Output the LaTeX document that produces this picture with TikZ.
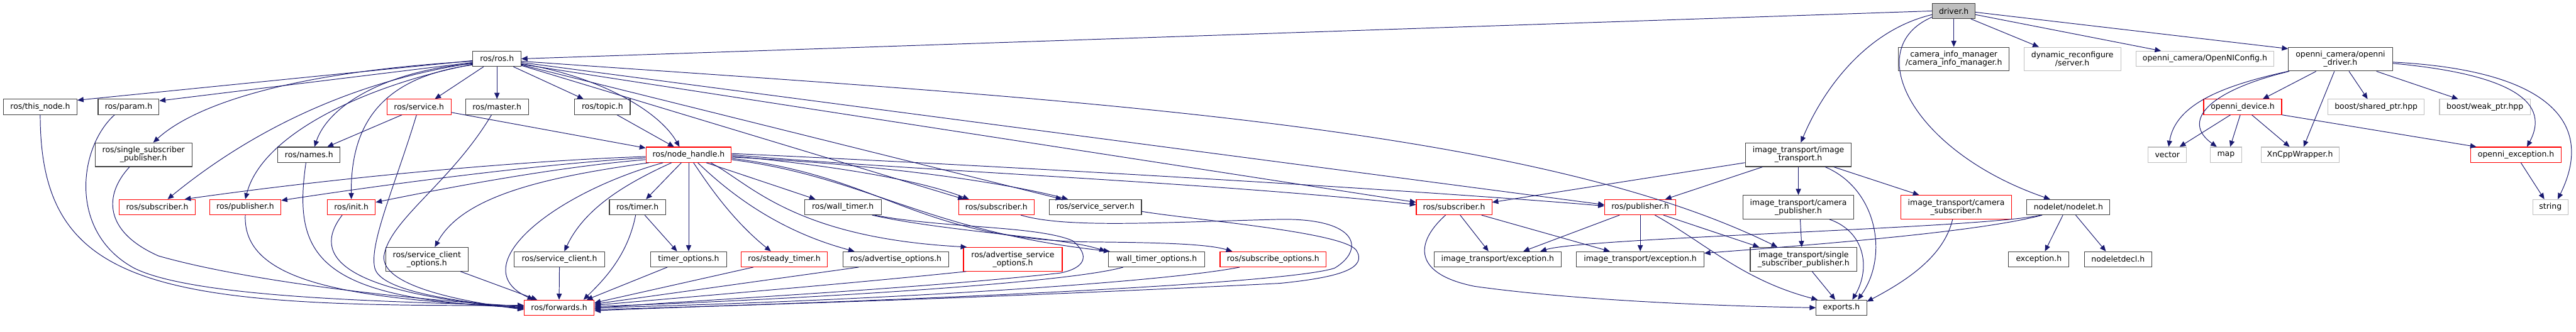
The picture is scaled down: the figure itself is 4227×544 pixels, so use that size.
\documentclass[tikz,border=0pt]{standalone}
\usepackage{fontspec}
\setmainfont{DejaVu Sans}
\usetikzlibrary{arrows.meta}
\definecolor{edgec}{HTML}{191970}
\definecolor{gborder}{HTML}{BFBFBF}
\definecolor{rootfill}{HTML}{BFBFBF}
\definecolor{redb}{HTML}{FF0000}
\definecolor{nborder}{HTML}{404040}
\newcommand{\doxfont}{\fontsize{12.85}{13.4}\selectfont}
\tikzset{
 e/.style={draw=edgec, line width=1pt, -{Triangle[length=10pt,width=8.5pt]}},
 nd/.style={draw=nborder, line width=1.1pt, fill=white, inner sep=0pt, minimum height=25pt, font=\doxfont, align=center},
 rn/.style={nd, draw=redb},
 gn/.style={nd, draw=gborder},
 tl/.style={minimum height=39pt},
}
\begin{document}
\begin{tikzpicture}[x=1pt,y=-1pt]
\fill[white] (0,0) rectangle (4227,544);
\useasboundingbox (0,0) rectangle (4227,544);
% row 0/1
\node[nd,fill=rootfill,minimum width=70pt] (drv) at (3206,18) {driver.h};
\node[nd,minimum width=79pt] (ros) at (815.5,96.5) {ros/ros.h};
\node[nd,tl,minimum width=182pt] (cim) at (3206,97) {camera\_info\_manager\\/camera\_info\_manager.h};
\node[gn,tl,minimum width=159pt] (dyn) at (3400.5,97) {dynamic\_reconfigure\\/server.h};
\node[gn,minimum width=226pt] (oncfg) at (3618,96.5) {openni\_camera/OpenNIConfig.h};
\node[nd,tl,minimum width=171pt] (ondrv) at (3840.5,97) {openni\_camera/openni\\\_driver.h};
% row 2
\node[nd,minimum width=121pt] (thisnode) at (66,175.5) {ros/this\_node.h};
\node[nd,minimum width=100pt] (param) at (211,175.5) {ros/param.h};
\node[rn,minimum width=105pt] (service) at (687.5,175.5) {ros/service.h};
\node[nd,minimum width=103pt] (master) at (815.5,175.5) {ros/master.h};
\node[nd,minimum width=91pt] (topic) at (988.5,175.5) {ros/topic.h};
\node[rn,minimum width=128pt] (ondev) at (3680,175.5) {openni\_device.h};
\node[gn,minimum width=158pt] (shptr) at (3899,175.5) {boost/shared\_ptr.hpp};
\node[gn,minimum width=149pt] (wkptr) at (4077.5,175.5) {boost/weak\_ptr.hpp};
% row 3
\node[nd,tl,minimum width=159pt] (ssp) at (235.5,254) {ros/single\_subscriber\\\_publisher.h};
\node[nd,minimum width=102pt] (names) at (507,254) {ros/names.h};
\node[rn,minimum width=140pt] (nh) at (1130,254) {ros/node\_handle.h};
\node[nd,tl,minimum width=174pt] (itit) at (2951,254) {image\_transport/image\\\_transport.h};
\node[gn,minimum width=63pt] (vector) at (3556.5,254) {vector};
\node[gn,minimum width=51pt] (map) at (3652.5,254) {map};
\node[gn,minimum width=128pt] (xn) at (3774,254) {XnCppWrapper.h};
\node[rn,minimum width=149pt] (onexc) at (4128.5,254) {openni\_exception.h};
% row 4
\node[rn,minimum width=124pt] (subL) at (258,340) {ros/subscriber.h};
\node[rn,minimum width=117pt] (pubL) at (402.5,340) {ros/publisher.h};
\node[rn,minimum width=79pt] (init) at (576.5,340) {ros/init.h};
\node[nd,minimum width=92pt] (timer) at (1046,340) {ros/timer.h};
\node[nd,minimum width=126pt] (wtimer) at (1383,340) {ros/wall\_timer.h};
\node[rn,minimum width=124pt] (subM) at (1635,340) {ros/subscriber.h};
\node[nd,minimum width=151pt] (srvsrv) at (1797.5,340) {ros/service\_server.h};
\node[rn,minimum width=124pt] (subR) at (2386,340) {ros/subscriber.h};
\node[rn,minimum width=117pt] (pubR) at (2691.5,340) {ros/publisher.h};
\node[nd,tl,minimum width=182pt] (itcp) at (2951,340) {image\_transport/camera\\\_publisher.h};
\node[rn,tl,minimum width=182pt] (itcs) at (3210,340) {image\_transport/camera\\\_subscriber.h};
\node[nd,minimum width=136pt] (nodelet) at (3394,340) {nodelet/nodelet.h};
\node[gn,minimum width=58pt] (string) at (4185,340) {string};
% row 5
\node[nd,tl,minimum width=135pt] (sco) at (700.5,425.5) {ros/service\_client\\\_options.h};
\node[nd,minimum width=148pt] (sc) at (918,425.5) {ros/service\_client.h};
\node[nd,minimum width=124pt] (topt) at (1130,425.5) {timer\_options.h};
\node[rn,minimum width=142pt] (stimer) at (1287,425.5) {ros/steady\_timer.h};
\node[nd,minimum width=174pt] (advo) at (1470,425.5) {ros/advertise\_options.h};
\node[rn,tl,minimum width=162pt] (advso) at (1662,425.5) {ros/advertise\_service\\\_options.h};
\node[nd,minimum width=158pt] (wto) at (1898,425.5) {wall\_timer\_options.h};
\node[rn,minimum width=174pt] (subo) at (2089,425.5) {ros/subscribe\_options.h};
\node[nd,minimum width=209pt] (exc1) at (2457.5,425.5) {image\_transport/exception.h};
\node[nd,minimum width=209pt] (exc2) at (2691.5,425.5) {image\_transport/exception.h};
\node[nd,tl,minimum width=175pt] (itssp) at (2959.5,425.5) {image\_transport/single\\\_subscriber\_publisher.h};
\node[nd,minimum width=99pt] (exch) at (3345.5,425.5) {exception.h};
\node[nd,minimum width=111pt] (ndecl) at (3475.5,425.5) {nodeletdecl.h};
% row 6
\node[rn,minimum width=115pt] (fwd) at (917.5,505) {ros/forwards.h};
\node[nd,minimum width=83pt] (exports) at (3021.5,505) {exports.h};

% ---- edges from driver.h
\draw[e] (drv.west) -- (ros.east);
\draw[e] (drv.south) -- (cim.north);
\draw[e] ([xshift=28pt]drv.south) -- ([xshift=-55pt]dyn.north);
\draw[e] ([yshift=-6pt]drv.east) -- ([xshift=-72pt]oncfg.north);
\draw[e] ([yshift=-2pt]drv.east) -- ([yshift=-3pt]ondrv.north west);
\draw[e] ([yshift=-6pt]drv.west) .. controls (3060,50) and (2990,150) .. ([xshift=4pt]itit.north);
\draw[e] ([yshift=-10pt]drv.west) .. controls (3050,80) and (3140,250) .. ([xshift=-30pt]nodelet.north);
% ---- ros/ros.h
\draw[e] ([yshift=-3pt]ros.west) -- ([yshift=-2pt]thisnode.north east);
\draw[e] ([yshift=-6pt]ros.west) -- ([yshift=-3pt]param.north east);
\draw[e] ([yshift=-4pt]ros.west) .. controls (450,120) and (310,180) .. ([xshift=16pt]ssp.north);
\draw[e] ([yshift=-7pt]ros.west) .. controls (600,130) and (430,200) .. ([xshift=17pt]subL.north);
\draw[e] ([yshift=-9pt]ros.west) .. controls (600,140) and (430,220) .. (pubL.north);
\draw[e] ([yshift=-8pt]ros.west) .. controls (640,115) and (540,170) .. ([xshift=9pt]names.north);
\draw[e] ([yshift=-10pt]ros.west) .. controls (640,125) and (575,190) .. (init.north);
\draw[e] ([xshift=-22pt]ros.south) -- ([xshift=26pt]service.north);
\draw[e] (ros.south) -- (master.north);
\draw[e] ([xshift=27pt]ros.south) -- ([xshift=-31pt]topic.north);
\draw[e] ([yshift=-8pt]ros.east) .. controls (980,125) and (1080,180) .. ([xshift=-15pt]nh.north);
\draw[e] ([yshift=-4pt]ros.east) .. controls (1700,160) and (2500,200) .. ([xshift=-43pt]itssp.north);
\draw[e] ([yshift=-6pt]ros.east) -- ([yshift=4pt]pubR.west);
\draw[e] ([yshift=-9pt]ros.east) -- ([yshift=8pt]subR.west);
\draw[e] ([yshift=-10pt]ros.east) -- ([xshift=-55pt]srvsrv.north);
\draw[e] ([yshift=-11pt]ros.east) -- ([xshift=-53pt]subM.north);
% ---- service, topic
\draw[e] ([xshift=-28pt]service.south) -- ([xshift=30pt]names.north);
\draw[e] ([yshift=-9pt]service.east) -- ([yshift=-2pt]nh.north west);
\draw[e] ([xshift=24pt]topic.south) -- ([xshift=-24pt]nh.north);
% ---- node_handle
\draw[e] ([yshift=-3pt]nh.west) .. controls (900,262) and (600,285) .. ([xshift=45pt]subL.north);
\draw[e] ([yshift=-5pt]nh.west) .. controls (900,268) and (650,300) .. ([yshift=-2pt]pubL.north east);
\draw[e] ([yshift=-8pt]nh.west) .. controls (900,275) and (700,315) .. ([yshift=8pt]init.east);
\draw[e] ([xshift=-65pt]nh.south) .. controls (900,290) and (760,320) .. ([xshift=13pt]sco.north);
\draw[e] ([xshift=-42pt]nh.south) .. controls (900,320) and (760,440) .. ([xshift=-42pt]fwd.north);
\draw[e] ([xshift=-28pt]nh.south) .. controls (1030,300) and (960,340) .. ([xshift=8pt]sc.north);
\draw[e] ([xshift=-12pt]nh.south) -- ([xshift=14pt]timer.north);
\draw[e] (nh.south) -- (topt.north);
\draw[e] ([xshift=8pt]nh.south) .. controls (1160,300) and (1200,360) .. ([xshift=-22pt]stimer.north);
\draw[e] ([xshift=15pt]nh.south) .. controls (1200,320) and (1280,380) .. ([xshift=-68pt]advo.north);
\draw[e] ([xshift=29pt]nh.south) -- ([xshift=-45pt]wtimer.north);
\draw[e] ([xshift=36pt]nh.south) .. controls (1230,300) and (1300,390) .. ([xshift=6pt]advso.north west);
\draw[e] ([yshift=-8pt]nh.east) .. controls (1420,290) and (1520,380) .. ([xshift=-77pt]wto.north);
\draw[e] ([yshift=-6pt]nh.east) .. controls (1450,290) and (1500,390) .. (1780,397) .. controls (1900,398) and (1980,400) .. ([xshift=-67pt]subo.north);
\draw[e] ([yshift=-2pt]nh.east) .. controls (1400,275) and (1520,300) .. ([xshift=-45pt]subM.north);
\draw[e] ([yshift=-4pt]nh.east) .. controls (1450,270) and (1650,300) .. ([xshift=-45pt]srvsrv.north);
\draw[e] (nh.east) .. controls (1500,280) and (2000,300) .. ([yshift=4pt]subR.west);
\draw[e] ([yshift=2pt]nh.east) .. controls (1600,270) and (2300,310) .. ([yshift=2pt]pubR.west);
% ---- into ros/forwards.h
\draw[e] (thisnode.south) .. controls (66,470) and (250,505) .. ([yshift=4pt]fwd.west);
\draw[e] ([xshift=-23pt]param.south) .. controls (130,240) and (110,380) .. (220,440) .. controls (320,490) and (650,495) .. ([yshift=3pt]fwd.west);
\draw[e] ([xshift=-23pt]ssp.south) .. controls (170,320) and (170,380) .. (260,420) .. controls (400,460) and (650,490) .. ([yshift=2pt]fwd.west);
\draw[e] (pubL.south) .. controls (398,460) and (560,490) .. ([yshift=1pt]fwd.west);
\draw[e] ([xshift=-5pt]names.south) .. controls (480,420) and (520,490) .. (fwd.west);
\draw[e] ([xshift=-15pt]init.south) .. controls (510,420) and (560,480) .. ([yshift=-1pt]fwd.west);
\draw[e] ([xshift=-4pt]service.south) .. controls (650,300) and (605,400) .. (615,440) .. controls (625,480) and (760,495) .. ([yshift=-2pt]fwd.west);
\draw[e] ([xshift=-9pt]master.south) .. controls (740,300) and (640,360) .. (630,420) .. controls (625,470) and (760,495) .. ([yshift=-3pt]fwd.west);
\draw[e] ([xshift=55pt]sco.south) -- ([xshift=-36pt]fwd.north);
\draw[e] (sc.south) -- (fwd.north);
\draw[e] ([xshift=-3pt]timer.south) .. controls (1030,420) and (990,460) .. ([xshift=40pt]fwd.north);
\draw[e] ([xshift=12pt]timer.south) -- ([xshift=-19pt]topt.north);
\draw[e] ([xshift=-35pt]topt.south) -- ([xshift=45pt]fwd.north);
\draw[e] ([xshift=-51pt]stimer.south) -- ([yshift=8pt]fwd.east);
\draw[e] ([xshift=-61pt]advo.south) -- ([yshift=6pt]fwd.east);
\draw[e] ([xshift=5pt]advso.south west) .. controls (1400,465) and (1100,490) .. ([yshift=4pt]fwd.east);
\draw[e] ([xshift=-55pt]wto.south) .. controls (1750,465) and (1300,492) .. ([yshift=2pt]fwd.east);
\draw[e] ([xshift=-55pt]subo.south) .. controls (1900,465) and (1400,495) .. (fwd.east);
\draw[e] ([xshift=48pt]wtimer.south) .. controls (1550,380) and (1750,390) .. ([xshift=-84pt]wto.north);
\draw[e] ([xshift=52pt]wtimer.south) .. controls (1550,375) and (1700,370) .. (1760,395) .. controls (1790,420) and (1780,440) .. (1740,448) .. controls (1500,475) and (1100,495) .. ([yshift=-1pt]fwd.east);
\draw[e] ([xshift=40pt]subM.south) .. controls (1750,375) and (1900,365) .. (2100,360) .. controls (2230,358) and (2240,410) .. (2190,440) .. controls (2100,470) and (1300,500) .. ([yshift=-3pt]fwd.east);
\draw[e] ([yshift=-7pt]srvsrv.east) .. controls (1950,360) and (2200,380) .. (2225,410) .. controls (2245,440) and (2200,455) .. (2100,465) .. controls (1500,495) and (1200,500) .. ([yshift=-5pt]fwd.east);
% ---- image_transport area
\draw[e] ([xshift=-14pt]subR.south) .. controls (2320,400) and (2320,450) .. (2420,470) .. controls (2600,495) and (2850,503) .. (exports.west);
\draw[e] ([xshift=10pt]subR.south) -- ([xshift=-15pt]exc1.north);
\draw[e] ([xshift=45pt]subR.south) -- ([xshift=-50pt]exc2.north);
\draw[e] ([xshift=-34pt]pubR.south) -- ([xshift=42pt]exc1.north);
\draw[e] (pubR.south) -- (exc2.north);
\draw[e] ([xshift=38pt]pubR.south) -- ([xshift=-73pt]itssp.north);
\draw[e] ([xshift=24pt]pubR.south) .. controls (2800,400) and (2860,460) .. ([xshift=3pt]exports.north west);
\draw[e] ([yshift=-13pt]itit.west) -- ([yshift=8pt]subR.east);
\draw[e] ([xshift=-59pt]itit.south) -- ([xshift=41pt]pubR.north);
\draw[e] (itit.south) -- (itcp.north);
\draw[e] ([xshift=58pt]itit.south) -- ([xshift=-61pt]itcs.north);
\draw[e] ([xshift=44pt]itit.south) .. controls (3080,310) and (3100,420) .. ([xshift=27pt]exports.north);
\draw[e] ([xshift=3pt]itcp.south) -- ([xshift=-3pt]itssp.north);
\draw[e] ([xshift=51pt]itcp.south) .. controls (3060,380) and (3070,440) .. ([xshift=18pt]exports.north);
\draw[e] ([xshift=-6pt]itcs.south) .. controls (3190,420) and (3130,460) .. ([yshift=-3pt]exports.north east);
\draw[e] ([xshift=14pt]itssp.south) -- ([xshift=-10pt]exports.north);
\draw[e] ([xshift=-45pt]nodelet.south) .. controls (3250,375) and (2600,390) .. ([xshift=70pt]exc1.north);
\draw[e] ([xshift=-43pt]nodelet.south) .. controls (3250,380) and (3000,400) .. ([yshift=10pt]exc2.east);
\draw[e] ([xshift=-9pt]nodelet.south) -- ([xshift=10pt]exch.north);
\draw[e] ([xshift=12pt]nodelet.south) -- ([xshift=-20pt]ndecl.north);
% ---- openni
\draw[e] (ondrv.south west) .. controls (3650,140) and (3570,170) .. ([xshift=2pt]vector.north);
\draw[e] ([xshift=2pt]ondrv.south west) .. controls (3620,150) and (3580,200) .. ([xshift=-15pt]map.north);
\draw[e] ([xshift=-40pt]ondrv.south) -- ([xshift=33pt]ondev.north);
\draw[e] ([xshift=-10pt]ondrv.south) -- ([xshift=6pt]xn.north);
\draw[e] ([xshift=14pt]ondrv.south) -- ([xshift=-14pt]shptr.north);
\draw[e] ([xshift=59pt]ondrv.south) -- ([xshift=-44pt]wkptr.north);
\draw[e] ([yshift=-7pt]ondrv.east) .. controls (4100,120) and (4190,160) .. ([xshift=18pt]onexc.north);
\draw[e] ([yshift=-5pt]ondrv.east) .. controls (4180,115) and (4260,200) .. ([xshift=12pt]string.north);
\draw[e] ([xshift=-20pt]ondev.south) -- ([xshift=20pt]vector.north);
\draw[e] ([xshift=-4pt]ondev.south) -- ([xshift=7pt]map.north);
\draw[e] ([xshift=15pt]ondev.south) -- ([xshift=-17pt]xn.north);
\draw[e] (ondev.south east) -- ([xshift=-65pt]onexc.north);
\draw[e] ([xshift=8pt]onexc.south) -- ([xshift=-10pt]string.north);
\end{tikzpicture}
\end{document}
